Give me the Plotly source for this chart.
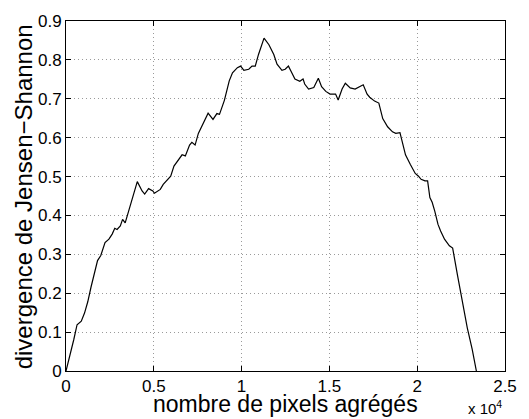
import plotly.graph_objects as go

pixels_agreges = [0, 222, 444, 630, 870, 1055, 1240, 1426, 1611, 1796, 1981, 2222, 2444, 2630,
                  2778, 2907, 3093, 3222, 3370, 3537, 3741, 3926, 4060, 4333, 4481, 4704, 4944,
                  5037, 5222, 5370, 5537, 5778, 5963, 6148, 6389, 6611, 6796, 7037, 7167, 7352,
                  7537, 7815, 8093, 8370, 8593, 8741, 9019, 9296, 9481, 9759, 9944, 10130, 10407,
                  10593, 10778, 10963, 11056, 11278, 11556, 11833, 12019, 12296, 12481, 12667,
                  12815, 13037, 13315, 13500, 13593, 13815, 14111, 14370, 14556, 14796, 15037,
                  15352, 15500, 15722, 15907, 16185, 16463, 16741, 16926, 17148, 17296, 17574,
                  17815, 18037, 18315, 18593, 18778, 19019, 19148, 19333, 19611, 19889, 20074,
                  20222, 20444, 20593, 20722, 20852, 21000, 21185, 21333, 21556, 21833, 22019,
                  22296, 22574, 22852, 23130, 23370]
divergence_js = [0.0, 0.039, 0.081, 0.119, 0.128, 0.149, 0.178, 0.216, 0.254, 0.284, 0.297, 0.330,
                 0.339, 0.352, 0.367, 0.364, 0.373, 0.390, 0.381, 0.407, 0.434, 0.467, 0.487,
                 0.463, 0.455, 0.469, 0.463, 0.457, 0.463, 0.467, 0.480, 0.491, 0.501, 0.527,
                 0.542, 0.556, 0.553, 0.581, 0.588, 0.581, 0.611, 0.636, 0.663, 0.647, 0.662,
                 0.660, 0.696, 0.746, 0.767, 0.780, 0.784, 0.773, 0.776, 0.784, 0.784, 0.814,
                 0.827, 0.856, 0.839, 0.814, 0.789, 0.773, 0.776, 0.784, 0.771, 0.751, 0.745,
                 0.751, 0.738, 0.725, 0.729, 0.753, 0.731, 0.719, 0.712, 0.712, 0.697, 0.725,
                 0.740, 0.728, 0.725, 0.731, 0.736, 0.712, 0.704, 0.694, 0.689, 0.649, 0.628,
                 0.615, 0.611, 0.613, 0.586, 0.556, 0.531, 0.508, 0.501, 0.493, 0.489, 0.489,
                 0.446, 0.434, 0.411, 0.377, 0.360, 0.339, 0.322, 0.316, 0.246, 0.174, 0.111,
                 0.056, 0.0]

x_tick_vals = [0, 5000, 10000, 15000, 20000, 25000]
x_tick_text = ["0", "0.5", "1", "1.5", "2", "2.5"]
y_tick_vals = [0, 0.1, 0.2, 0.3, 0.4, 0.5, 0.6, 0.7, 0.8, 0.9]
y_tick_text = ["0", "0.1", "0.2", "0.3", "0.4", "0.5", "0.6", "0.7", "0.8", "0.9"]

x_title = "nombre de pixels agrégés"
y_title = "divergence de Jensen−Shannon"

FONT = "Liberation Sans, Arial, Helvetica, sans-serif"

fig = go.Figure()
fig.add_trace(go.Scatter(x=pixels_agreges, y=divergence_js, mode="lines",
                         line=dict(color="black", width=1.2), showlegend=False))

axis_common = dict(showline=True, linecolor="black", linewidth=1, mirror="allticks",
                   ticks="inside", ticklen=5, tickcolor="black", tickwidth=1,
                   showgrid=True, gridcolor="#9a9a9a", gridwidth=1, griddash="1px,3px",
                   zeroline=False, tickfont=dict(family=FONT, size=17, color="black"))

fig.update_xaxes(range=[0, 25000], tickvals=x_tick_vals, ticktext=x_tick_text, **axis_common)
fig.update_yaxes(range=[0, 0.9], tickvals=y_tick_vals, ticktext=y_tick_text, **axis_common)

fig.add_annotation(text=x_title, xref="paper", yref="paper", x=0.5, y=-0.1352,
                   xanchor="center", yanchor="bottom", showarrow=False, borderpad=0,
                   font=dict(family=FONT, size=23, color="black"))
fig.add_annotation(text=y_title, xref="paper", yref="paper", x=-0.098, y=0.499,
                   xanchor="center", yanchor="middle", showarrow=False, textangle=-90,
                   font=dict(family=FONT, size=24, color="black"))
fig.add_annotation(text="x 10<sup>4</sup>", xref="paper", yref="paper", x=0.995, y=-0.1352,
                   xanchor="right", yanchor="bottom", showarrow=False, borderpad=0,
                   font=dict(family=FONT, size=15, color="black"))

fig.update_layout(width=529, height=419, margin=dict(l=66, r=13, t=16, b=48),
                  plot_bgcolor="white", paper_bgcolor="white")

fig.write_html("out.html", config={"displayModeBar": False},
               post_script="document.body.style.margin='0';document.body.style.overflow='hidden';")
